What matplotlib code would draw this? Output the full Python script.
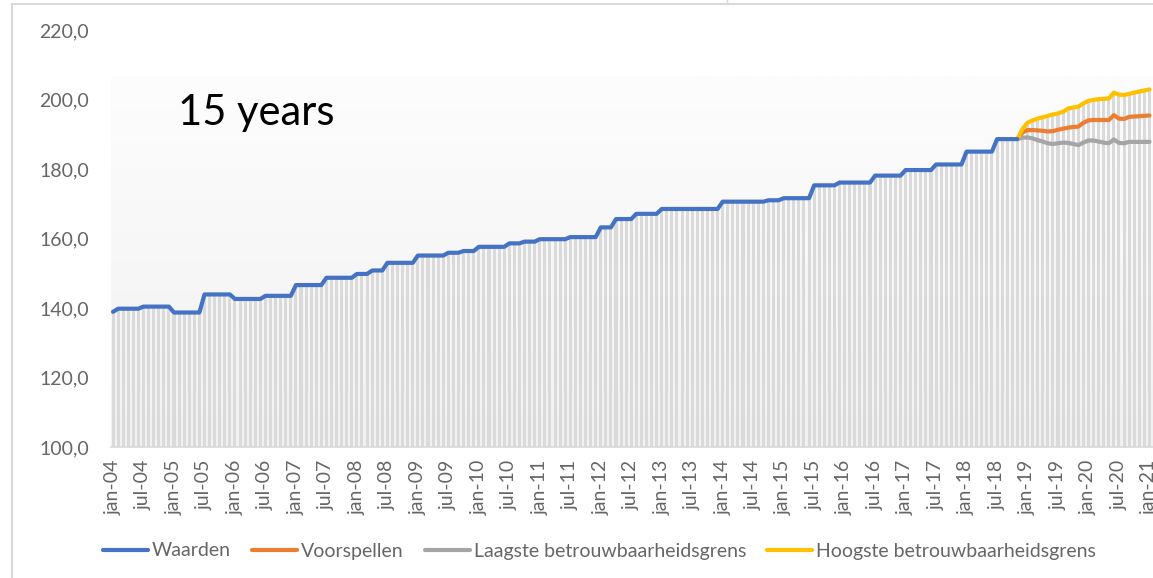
import numpy as np
import matplotlib
matplotlib.use("Agg")
import matplotlib.pyplot as plt
from matplotlib.colors import LinearSegmentedColormap
from matplotlib.lines import Line2D

plt.rcParams['font.family'] = ['Lato', 'DejaVu Sans']

# =====================================================
# DATA (monthly, jan-04 .. nov-18 observed, nov-18 .. jan-21 forecast)
# =====================================================
waarden = [
    138.9, 139.8, 139.8, 139.8, 139.8, 139.8, 140.4, 140.4, 140.4, 140.4, 140.4, 140.4,  # 2004
    138.7, 138.7, 138.7, 138.7, 138.7, 138.7, 143.9, 143.9, 143.9, 143.9, 143.9, 143.9,  # 2005
    142.6, 142.6, 142.6, 142.6, 142.6, 142.6, 143.5, 143.5, 143.5, 143.5, 143.5, 143.5,  # 2006
    146.6, 146.6, 146.6, 146.6, 146.6, 146.6, 148.7, 148.7, 148.7, 148.7, 148.7, 148.7,  # 2007
    149.8, 149.8, 149.8, 150.8, 150.8, 150.8, 153.0, 153.0, 153.0, 153.0, 153.0, 153.0,  # 2008
    155.1, 155.1, 155.1, 155.1, 155.1, 155.1, 155.9, 155.9, 155.9, 156.4, 156.4, 156.4,  # 2009
    157.6, 157.6, 157.6, 157.6, 157.6, 157.6, 158.6, 158.6, 158.6, 159.1, 159.1, 159.1,  # 2010
    159.8, 159.8, 159.8, 159.8, 159.8, 159.8, 160.4, 160.4, 160.4, 160.4, 160.4, 160.4,  # 2011
    163.2, 163.2, 163.2, 165.6, 165.6, 165.6, 165.6, 167.1, 167.1, 167.1, 167.1, 167.1,  # 2012
    168.5, 168.5, 168.5, 168.5, 168.5, 168.5, 168.5, 168.5, 168.5, 168.5, 168.5, 168.5,  # 2013
    170.6, 170.6, 170.6, 170.6, 170.6, 170.6, 170.6, 170.6, 170.6, 171.0, 171.0, 171.0,  # 2014
    171.6, 171.6, 171.6, 171.6, 171.6, 171.6, 175.3, 175.3, 175.3, 175.3, 175.3, 176.1,  # 2015
    176.1, 176.1, 176.1, 176.1, 176.1, 176.1, 178.1, 178.1, 178.1, 178.1, 178.1, 178.1,  # 2016
    179.7, 179.7, 179.7, 179.7, 179.7, 179.7, 181.3, 181.3, 181.3, 181.3, 181.3, 181.3,  # 2017
    185.0, 185.0, 185.0, 185.0, 185.0, 185.0, 188.6, 188.6, 188.6, 188.6, 188.6,         # 2018
]

forecast_start = 178  # nov-18
voorspellen = [
    188.6, 190.5, 191.2, 191.2, 191.1, 191.0, 190.8, 190.9, 191.3, 191.6, 191.9, 192.1,
    192.2, 193.3, 194.0, 194.1, 194.1, 194.1, 194.1, 195.5, 194.5, 194.4, 195.0, 195.1,
    195.2, 195.3, 195.4,
]
laagste = [
    188.6, 189.0, 189.1, 188.8, 188.3, 187.9, 187.4, 187.2, 187.4, 187.6, 187.5, 187.2,
    186.9, 187.6, 188.2, 188.2, 187.9, 187.6, 187.4, 188.5, 187.5, 187.4, 187.8, 187.8,
    187.8, 187.8, 187.8,
]
hoogste = [
    188.6, 191.5, 193.3, 194.0, 194.5, 194.9, 195.3, 195.7, 196.0, 196.5, 197.4, 197.7,
    197.9, 198.9, 199.6, 199.9, 200.1, 200.2, 200.3, 202.0, 201.4, 201.3, 201.6, 202.0,
    202.3, 202.6, 202.9,
]

tick_labels = [
    "jan-04", "jul-04", "jan-05", "jul-05", "jan-06", "jul-06", "jan-07", "jul-07",
    "jan-08", "jul-08", "jan-09", "jul-09", "jan-10", "jul-10", "jan-11", "jul-11",
    "jan-12", "jul-12", "jan-13", "jul-13", "jan-14", "jul-14", "jan-15", "jul-15",
    "jan-16", "jul-16", "jan-17", "jul-17", "jan-18", "jul-18", "jan-19", "jul-19",
    "jan-20", "jul-20", "jan-21",
]

# gray columns behind the lines: observed values, then the upper bound
kolommen = waarden[:forecast_start] + hoogste

# =====================================================
# PLOT
# =====================================================
W, H = 1153, 578
fig = plt.figure(figsize=(W / 100, H / 100), dpi=100)
ax = fig.add_axes([111 / W, 1 - 447 / H, 1 - 111 / W, (447 - 30) / H])

x_obs = np.arange(len(waarden))
x_fc = np.arange(forecast_start, forecast_start + len(voorspellen))
x_all = np.arange(len(kolommen))

xlim = (-0.4, 204.7)
ylim = (100, 220)

# soft gradient plot background (starts a bit below the top of the axes)
grad = LinearSegmentedColormap.from_list("bg", ["#fdfdfd", "#f1f1f1"])
ax.imshow(np.linspace(0, 1, 256).reshape(-1, 1), cmap=grad, aspect='auto',
          extent=[xlim[0], xlim[1], 100, 206.5], origin='upper', zorder=0)

ax.bar(x_all, kolommen, width=0.6, color='#dadada', zorder=1)

line_kw = dict(lw=3.0, solid_joinstyle='round', solid_capstyle='round')
ax.plot(x_obs, waarden, color='#4472C4', zorder=4, label='Waarden', **line_kw)
ax.plot(x_fc, voorspellen, color='#ED7D31', zorder=3, label='Voorspellen', **line_kw)
ax.plot(x_fc, laagste, color='#A5A5A5', zorder=3,
        label='Laagste betrouwbaarheidsgrens', **line_kw)
ax.plot(x_fc, hoogste, color='#FFC000', zorder=3,
        label='Hoogste betrouwbaarheidsgrens', **line_kw)

ax.set_xlim(*xlim)
ax.set_ylim(*ylim)

ax.set_yticks(np.arange(100, 221, 20))
ax.set_yticklabels([f"{v:.1f}".replace('.', ',') for v in np.arange(100, 221, 20)])
ax.set_xticks(np.arange(0, 205, 6))
ax.set_xticklabels(tick_labels, rotation=90)
ax.tick_params(axis='y', length=0, pad=16, labelsize=14, labelcolor='#666666')
ax.tick_params(axis='x', length=0, pad=9, labelsize=14, labelcolor='#666666')

for s in ['top', 'right', 'left']:
    ax.spines[s].set_visible(False)
ax.spines['bottom'].set_color('#d9d9d9')
ax.spines['bottom'].set_linewidth(1.2)
ax.spines['bottom'].set_zorder(5)

fig.text(178 / W, 1 - 113 / H, "15 years", fontsize=30, color='black',
         ha='left', va='center')

fig.legend(loc='center', bbox_to_anchor=(0.52, 1 - 551 / H), ncol=4, frameon=False,
           fontsize=14, labelcolor='#666666', handlelength=2.3, handletextpad=0.2,
           columnspacing=1.1)

# chart frame (light gray)
fig.add_artist(Line2D([12 / W, 1], [1 - 4 / H, 1 - 4 / H], color='#d9d9d9', lw=1.5))
fig.add_artist(Line2D([12 / W, 12 / W], [0, 1 - 4 / H], color='#d9d9d9', lw=1.5))
fig.add_artist(Line2D([727 / W, 727 / W], [1 - 4 / H, 1], color='#d9d9d9', lw=1))

fig.savefig("out.png", dpi=100)
